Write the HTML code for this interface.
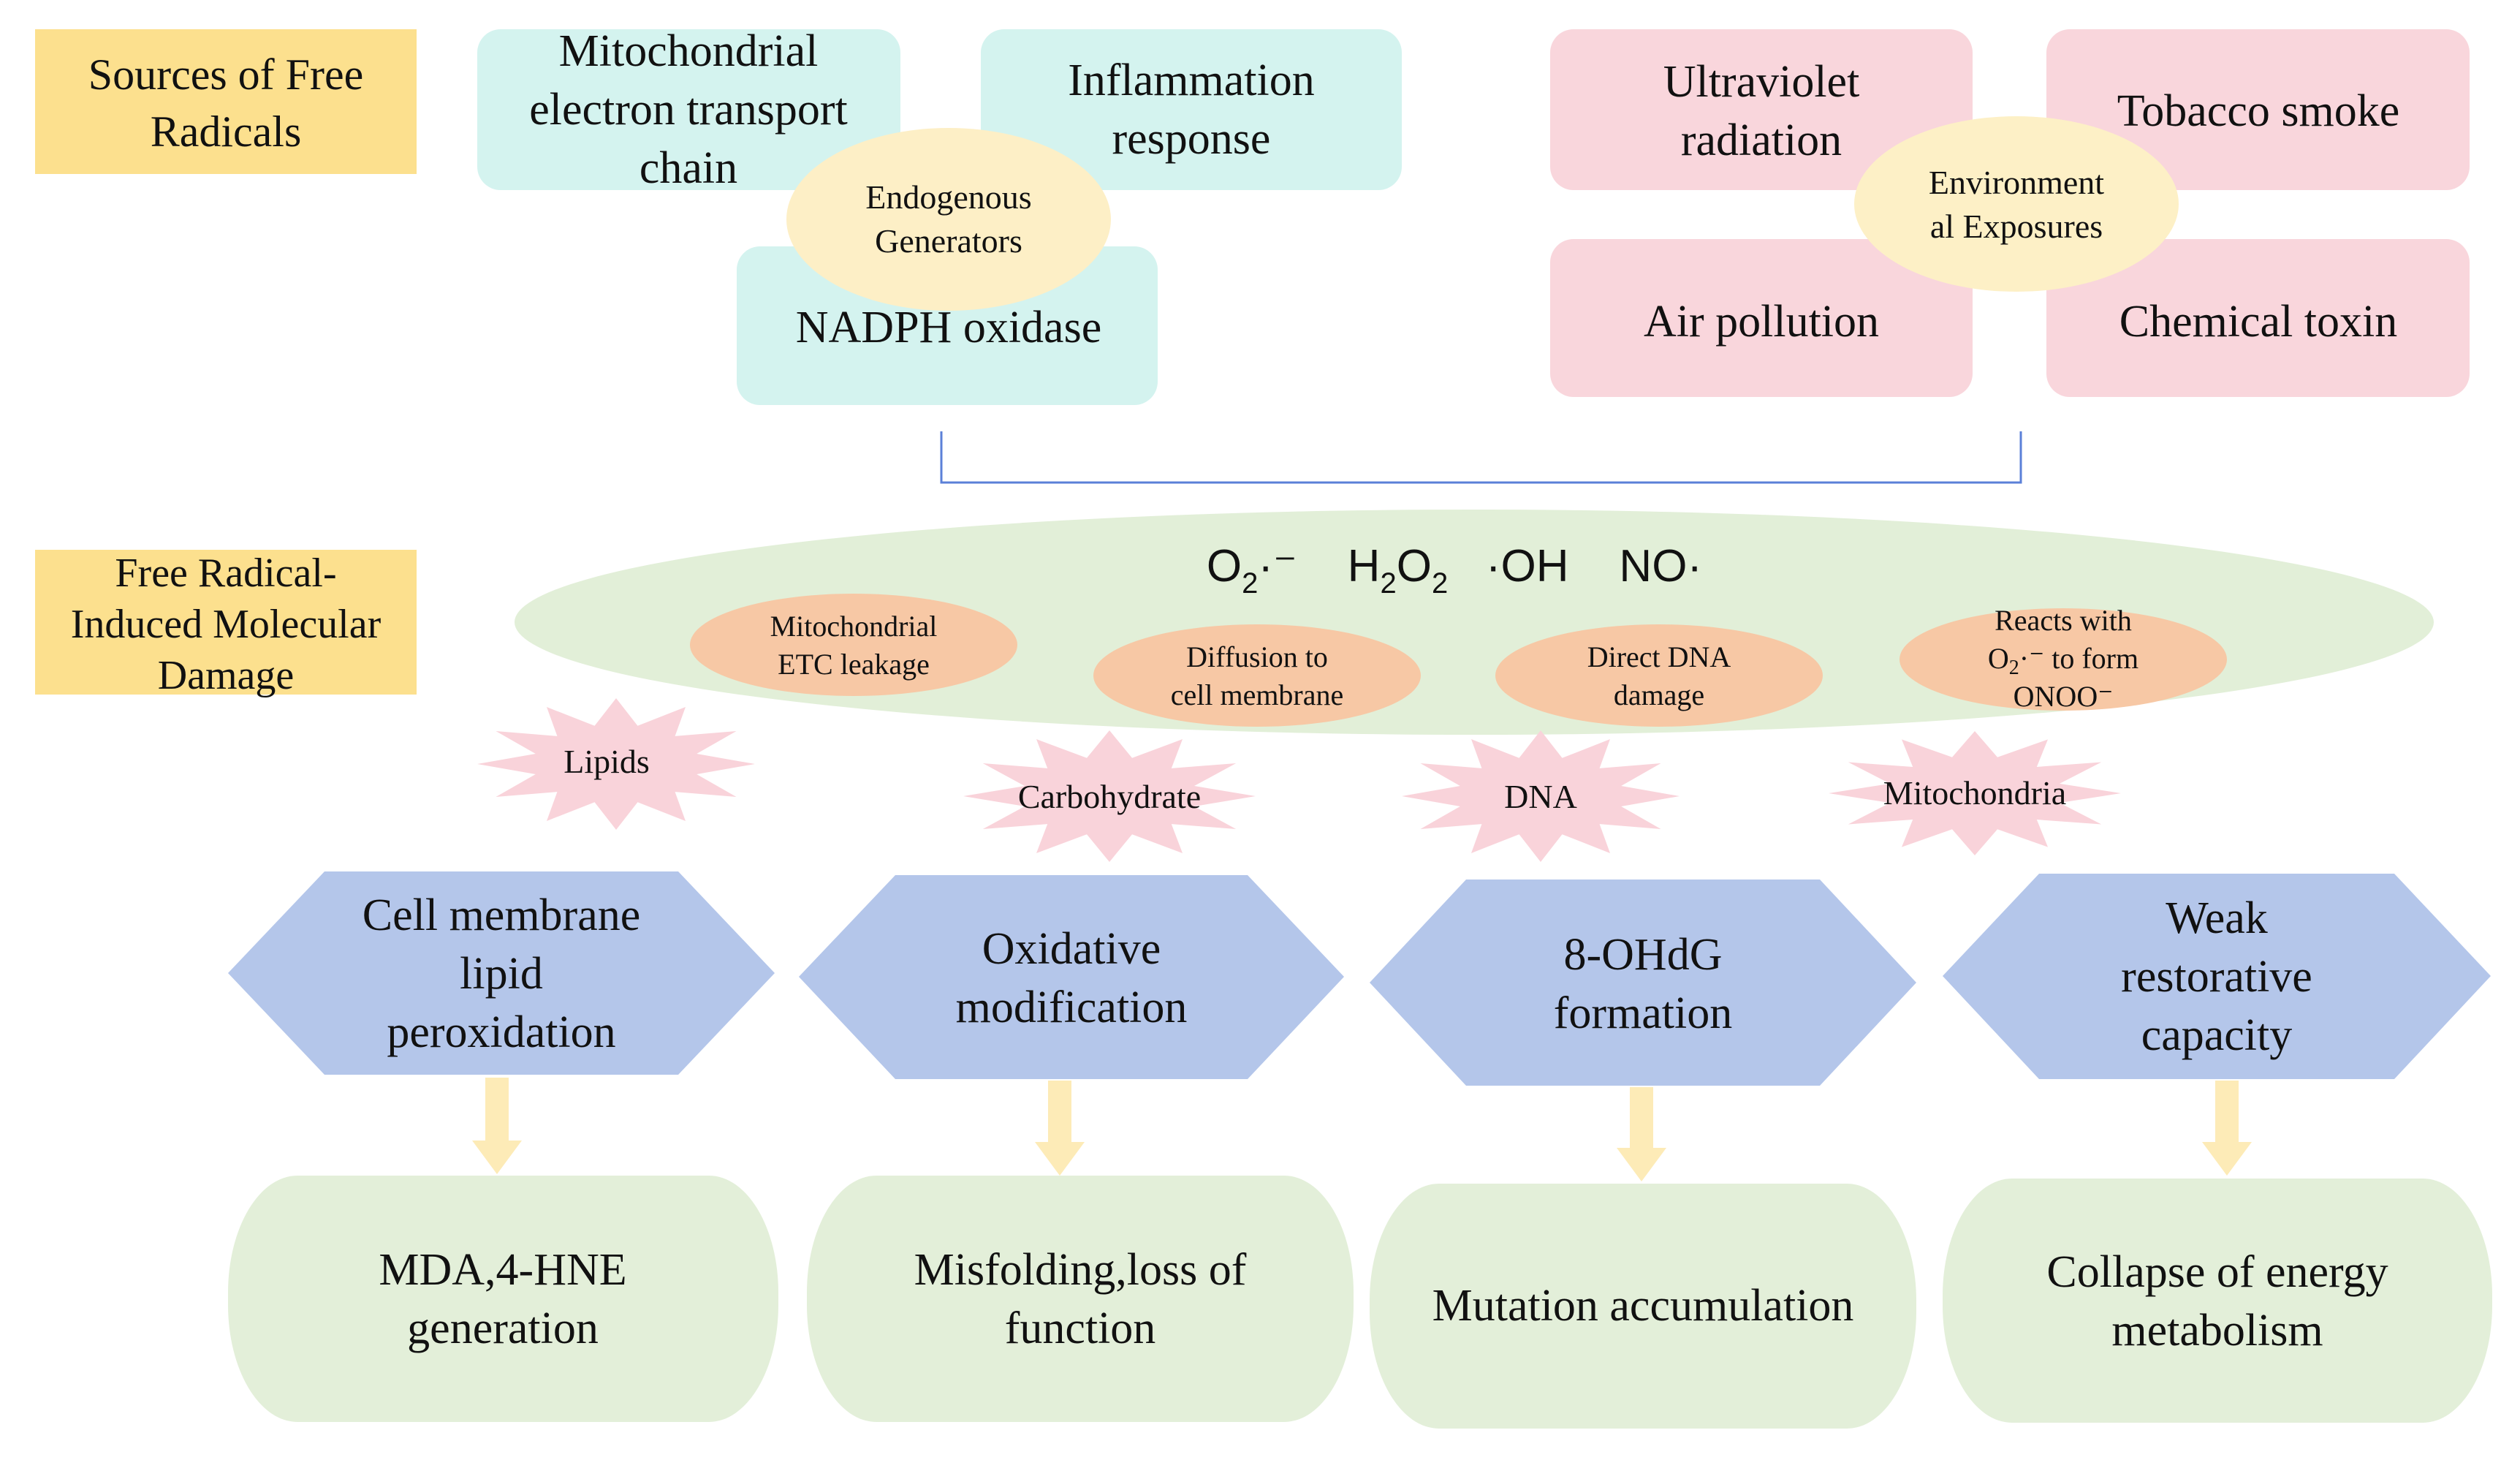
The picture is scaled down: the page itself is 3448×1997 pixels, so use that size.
<!DOCTYPE html>
<html><head><meta charset="utf-8"><style>
html,body{margin:0;padding:0;background:#fff;}
svg{display:block;}
text{font-family:"Liberation Serif",serif;fill:#111;text-anchor:middle;}
.s{font-family:"Liberation Sans",sans-serif;white-space:pre;}
</style></head><body>
<svg width="3448" height="1997" viewBox="0 0 3448 1997" xmlns="http://www.w3.org/2000/svg">
<defs>
<polygon id="st" points="1,0 .58,.155 .866,.5 .424,.424 .5,.866 .155,.58 0,1 -.155,.58 -.5,.866 -.424,.424 -.866,.5 -.58,.155 -1,0 -.58,-.155 -.866,-.5 -.424,-.424 -.5,-.866 -.155,-.58 0,-1 .155,-.58 .5,-.866 .424,-.424 .866,-.5 .58,-.155" fill="#f9d3da"/>
</defs>
<rect x="48" y="40" width="522" height="198" fill="#fce08e"/>
<text x="309" y="122" font-size="60">Sources of Free</text>
<text x="309" y="200" font-size="60">Radicals</text>
<rect x="48" y="752" width="522" height="198" fill="#fce08e"/>
<text x="309" y="802" font-size="56">Free Radical-</text>
<text x="309" y="872" font-size="56">Induced Molecular</text>
<text x="309" y="942" font-size="56">Damage</text>

<rect x="653" y="40" width="579" height="220" rx="32" fill="#d4f3ef"/>
<rect x="1342" y="40" width="576" height="220" rx="32" fill="#d4f3ef"/>
<rect x="1008" y="337" width="576" height="217" rx="32" fill="#d4f3ef"/>
<text x="942" y="90" font-size="62">Mitochondrial</text>
<text x="942" y="170" font-size="62">electron transport</text>
<text x="942" y="250" font-size="62">chain</text>
<text x="1630" y="130" font-size="62">Inflammation</text>
<text x="1630" y="210" font-size="62">response</text>
<text x="1298" y="468" font-size="62">NADPH oxidase</text>
<ellipse cx="1298" cy="300" rx="222" ry="125" fill="#fdefc6"/>
<text x="1298" y="285" font-size="46">Endogenous</text>
<text x="1298" y="345" font-size="46">Generators</text>

<rect x="2121" y="40" width="578" height="220" rx="32" fill="#f9d6dc"/>
<rect x="2800" y="40" width="579" height="220" rx="32" fill="#f9d6dc"/>
<rect x="2121" y="327" width="578" height="216" rx="32" fill="#f9d6dc"/>
<rect x="2800" y="327" width="579" height="216" rx="32" fill="#f9d6dc"/>
<text x="2410" y="132" font-size="62">Ultraviolet</text>
<text x="2410" y="212" font-size="62">radiation</text>
<text x="3090" y="172" font-size="62">Tobacco smoke</text>
<text x="2410" y="460" font-size="62">Air pollution</text>
<text x="3090" y="460" font-size="62">Chemical toxin</text>
<ellipse cx="2759" cy="279" rx="222" ry="120" fill="#fdf0c6"/>
<text x="2759" y="265" font-size="46">Environment</text>
<text x="2759" y="325" font-size="46">al Exposures</text>

<path d="M1288,590 V660 H2765 V590" fill="none" stroke="#5b80d8" stroke-width="3"/>

<ellipse cx="2017" cy="851" rx="1313" ry="154" fill="#e2efd8"/>
<text class="s" x="1990" y="795" font-size="62">O<tspan font-size="40" dy="16">2</tspan><tspan dy="-16">·⁻    H</tspan><tspan font-size="40" dy="16">2</tspan><tspan dy="-16">O</tspan><tspan font-size="40" dy="16">2</tspan><tspan dy="-16">   ·OH    NO·</tspan></text>
<ellipse cx="1168" cy="882" rx="224" ry="70" fill="#f7c8a5"/>
<ellipse cx="1720" cy="924" rx="224" ry="70" fill="#f7c8a5"/>
<ellipse cx="2270" cy="924" rx="224" ry="70" fill="#f7c8a5"/>
<ellipse cx="2823" cy="902" rx="224" ry="70" fill="#f7c8a5"/>
<text x="1168" y="870" font-size="40">Mitochondrial</text>
<text x="1168" y="922" font-size="40">ETC leakage</text>
<text x="1720" y="912" font-size="40">Diffusion to</text>
<text x="1720" y="964" font-size="40">cell membrane</text>
<text x="2270" y="912" font-size="40">Direct DNA</text>
<text x="2270" y="964" font-size="40">damage</text>
<text x="2823" y="862" font-size="40">Reacts with</text>
<text x="2823" y="914" font-size="40">O<tspan font-size="28" dy="8">2</tspan><tspan dy="-8">·⁻ to form</tspan></text>
<text x="2823" y="966" font-size="40">ONOO⁻</text>

<use href="#st" transform="translate(843,1045) scale(190,90)"/>
<use href="#st" transform="translate(1518,1089) scale(200,90)"/>
<use href="#st" transform="translate(2108,1089) scale(190,90)"/>
<use href="#st" transform="translate(2702,1085) scale(200,85)"/>
<text x="830" y="1057" font-size="46">Lipids</text>
<text x="1518" y="1105" font-size="46">Carbohydrate</text>
<text x="2108" y="1105" font-size="46">DNA</text>
<text x="2702" y="1100" font-size="46">Mitochondria</text>

<polygon points="444,1192 928,1192 1060,1331 928,1470 444,1470 312,1331" fill="#b4c6ea"/>
<polygon points="1225,1197 1707,1197 1839,1336 1707,1476 1225,1476 1093,1336" fill="#b4c6ea"/>
<polygon points="2006,1203 2490,1203 2622,1344 2490,1485 2006,1485 1874,1344" fill="#b4c6ea"/>
<polygon points="2790,1195 3276,1195 3408,1335 3276,1476 2790,1476 2658,1335" fill="#b4c6ea"/>
<text x="686" y="1272" font-size="62">Cell membrane</text>
<text x="686" y="1352" font-size="62">lipid</text>
<text x="686" y="1432" font-size="62">peroxidation</text>
<text x="1466" y="1318" font-size="62">Oxidative</text>
<text x="1466" y="1398" font-size="62">modification</text>
<text x="2248" y="1326" font-size="62">8-OHdG</text>
<text x="2248" y="1406" font-size="62">formation</text>
<text x="3033" y="1276" font-size="62">Weak</text>
<text x="3033" y="1356" font-size="62">restorative</text>
<text x="3033" y="1436" font-size="62">capacity</text>

<g fill="#fdebb7">
<polygon points="664,1474 696,1474 696,1560 714,1560 680,1606 646,1560 664,1560"/>
<polygon points="1434,1478 1466,1478 1466,1562 1484,1562 1450,1608 1416,1562 1434,1562"/>
<polygon points="2230,1487 2262,1487 2262,1570 2280,1570 2246,1616 2212,1570 2230,1570"/>
<polygon points="3031,1478 3063,1478 3063,1562 3081,1562 3047,1608 3013,1562 3031,1562"/>
</g>

<rect x="312" y="1608" width="753" height="337" rx="95" ry="160" fill="#e3efd9"/>
<rect x="1104" y="1608" width="748" height="337" rx="95" ry="160" fill="#e3efd9"/>
<rect x="1874" y="1619" width="748" height="335" rx="95" ry="160" fill="#e3efd9"/>
<rect x="2658" y="1612" width="752" height="334" rx="95" ry="160" fill="#e3efd9"/>
<text x="688" y="1757" font-size="62">MDA,4-HNE</text>
<text x="688" y="1837" font-size="62">generation</text>
<text x="1478" y="1757" font-size="62">Misfolding,loss of</text>
<text x="1478" y="1837" font-size="62">function</text>
<text x="2248" y="1806" font-size="62">Mutation accumulation</text>
<text x="3034" y="1760" font-size="62">Collapse of energy</text>
<text x="3034" y="1840" font-size="62">metabolism</text>
</svg>
</body></html>
